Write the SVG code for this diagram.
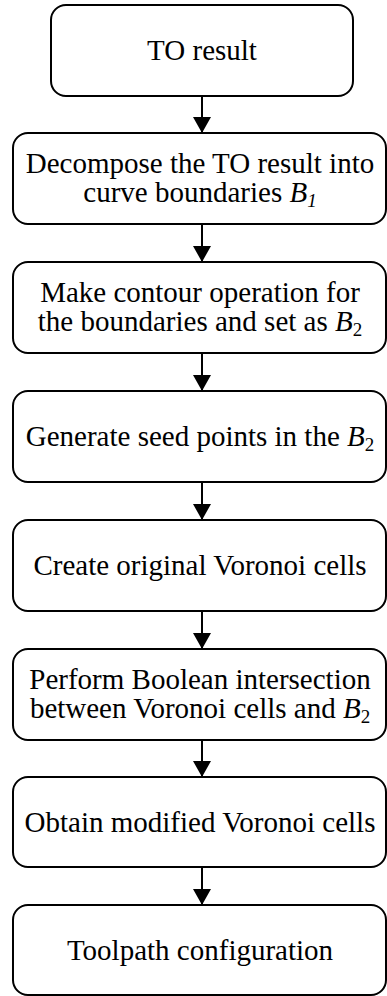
<svg xmlns="http://www.w3.org/2000/svg" width="387" height="996" viewBox="0 0 387 996">
<style>
.box{fill:#fff;stroke:#000;stroke-width:2}
.t{font-family:"Liberation Serif","Times New Roman",serif;font-size:29px;fill:#000;text-anchor:middle}
.i{font-style:italic}
.sub{font-size:19px}
.c{stroke:#000;stroke-width:2;fill:none}
</style>
<defs>
<marker id="ah" viewBox="0 0 16 18" refX="16" refY="9" markerWidth="16" markerHeight="18" markerUnits="userSpaceOnUse" orient="auto">
<path d="M0,0 L16,9 L0,18 Z" fill="#000"/>
</marker>
</defs>
<rect width="387" height="996" fill="#fff"/>
<g id="connectors">
<line class="c" x1="202" y1="96" x2="202" y2="133" marker-end="url(#ah)"/>
<line class="c" x1="202" y1="224" x2="202" y2="262" marker-end="url(#ah)"/>
<line class="c" x1="202" y1="353" x2="202" y2="391" marker-end="url(#ah)"/>
<line class="c" x1="202" y1="482" x2="202" y2="520" marker-end="url(#ah)"/>
<line class="c" x1="202" y1="611" x2="202" y2="649" marker-end="url(#ah)"/>
<line class="c" x1="202" y1="740" x2="202" y2="777" marker-end="url(#ah)"/>
<line class="c" x1="202" y1="867" x2="202" y2="905" marker-end="url(#ah)"/>
</g>
<g id="n1">
<rect class="box" x="51" y="5" width="302" height="91" rx="15"/>
<text class="t" x="202" y="60">TO result</text>
</g>
<g id="n2">
<rect class="box" x="13" y="133" width="373" height="91" rx="15"/>
<text class="t" x="200" y="173">Decompose the TO result into</text>
<text class="t" x="200" y="202">curve boundaries <tspan class="i">B</tspan><tspan class="i sub" dy="5">1</tspan></text>
</g>
<g id="n3">
<rect class="box" x="13" y="262" width="373" height="91" rx="15"/>
<text class="t" x="200" y="302">Make contour operation for</text>
<text class="t" x="200" y="331">the boundaries and set as <tspan class="i">B</tspan><tspan class="sub" dy="5">2</tspan></text>
</g>
<g id="n4">
<rect class="box" x="13" y="391" width="373" height="91" rx="15"/>
<text class="t" x="200" y="446">Generate seed points in the <tspan class="i">B</tspan><tspan class="sub" dy="5">2</tspan></text>
</g>
<g id="n5">
<rect class="box" x="13" y="520" width="373" height="91" rx="15"/>
<text class="t" x="200" y="575">Create original Voronoi cells</text>
</g>
<g id="n6">
<rect class="box" x="13" y="649" width="373" height="91" rx="15"/>
<text class="t" x="200" y="689">Perform Boolean intersection</text>
<text class="t" x="200" y="718">between Voronoi cells and <tspan class="i">B</tspan><tspan class="sub" dy="5">2</tspan></text>
</g>
<g id="n7">
<rect class="box" x="13" y="777" width="373" height="90" rx="15"/>
<text class="t" x="200" y="832">Obtain modified Voronoi cells</text>
</g>
<g id="n8">
<rect class="box" x="13" y="905" width="373" height="90" rx="15"/>
<text class="t" x="200" y="960">Toolpath configuration</text>
</g>
</svg>
